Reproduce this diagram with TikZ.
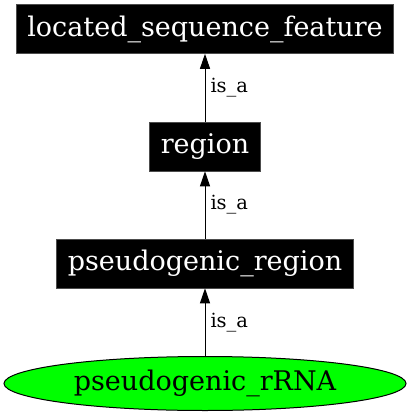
\documentclass[tikz,border=0pt]{standalone}
\usepackage{fontspec}
\setmainfont{DejaVu Serif}
\usetikzlibrary{arrows.meta,shapes.geometric}

\begin{document}
\begin{tikzpicture}[->, >={Triangle[length=15pt,width=10pt]}, x=1pt, y=1pt, line width=1pt,
    node distance=117.5pt,
    term node/.style={rectangle, fill=black, draw=black!70, line width=0.6pt, text=white,
        font=\fontsize{27}{32}\selectfont, inner xsep=11pt, inner ysep=0pt, minimum height=49pt},
    leaf node/.style={ellipse, fill=green, draw=black, line width=1pt,
        font=\fontsize{27}{32}\selectfont, inner sep=0pt, minimum width=402pt, minimum height=54pt}]
        \useasboundingbox (0,0) rectangle (411,-419);

        \node[term node] (lsf) at (205,-29) {located\_sequence\_feature};
        \node[term node] (region) [below of=lsf] {region};
        \node[term node] (pseudoregion) [below of=region, node distance=117pt] {pseudogenic\_region};
        \node[leaf node] (rrna) [below of=pseudoregion, node distance=120pt] {pseudogenic\_rRNA};

        \path[auto=right, every node/.style={font=\fontsize{19.5}{23}\selectfont, inner sep=5pt}]
        (region) edge node {is\_a} (lsf)
        (pseudoregion) edge node {is\_a} (region)
        (rrna) edge node {is\_a} (pseudoregion);

    \end{tikzpicture}
\end{document}
